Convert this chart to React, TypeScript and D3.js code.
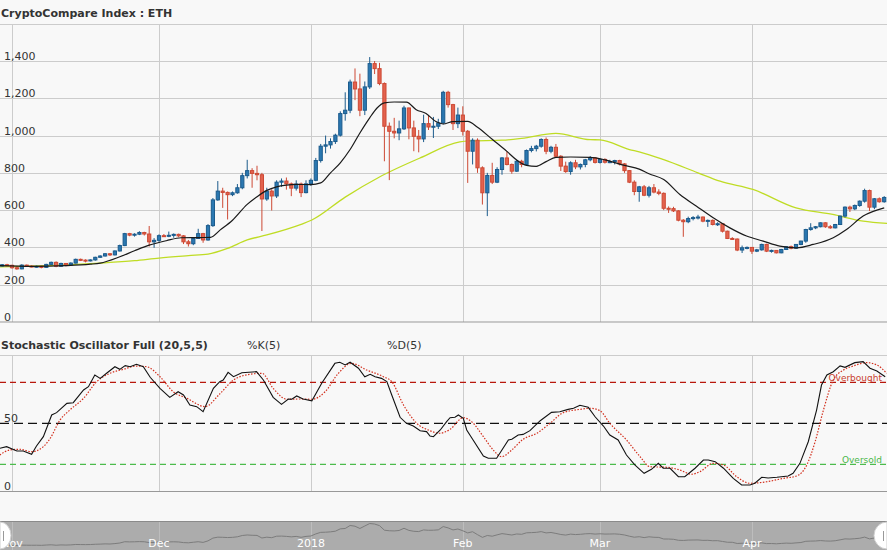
import React from 'react';
import * as d3 from 'd3';

const W = 887;
const H = 550;
const DAY = 86400000;
const FIRST_CANDLE = Date.UTC(2017, 9, 30);
const NOV1 = Date.UTC(2017, 10, 1);

// Daily OHLC, 30 Oct 2017 .. 28 Apr 2018
const openValues = [
  300, 307, 304, 291, 285, 305, 300, 297, 299, 293,
  309, 320, 299, 314, 307, 316, 336, 332, 329, 333,
  347, 354, 366, 360, 381, 410, 474, 466, 471, 480,
  472, 430, 438, 463, 460, 465, 470, 462, 430, 420,
  448, 474, 440, 517, 655, 702, 695, 683, 693, 720,
  785, 812, 797, 790, 660, 702, 676, 750, 756, 741,
  718, 740, 694, 741, 760, 866, 943, 950, 968, 1002,
  1118, 1136, 1287, 1250, 1136, 1261, 1386, 1359, 1279, 1050,
  1023, 1014, 1036, 1148, 1041, 996, 982, 1064, 1046, 1050,
  1068, 1232, 1166, 1064, 1110, 1023, 916, 975, 827, 693,
  786, 750, 818, 880, 845, 809, 862, 845, 920, 930,
  943, 979, 916, 937, 889, 836, 807, 854, 832, 845,
  870, 880, 856, 872, 857, 860, 866, 848, 812, 750,
  700, 725, 680, 720, 697, 690, 610, 608, 596, 546,
  538, 555, 560, 563, 541, 545, 523, 527, 487, 448,
  445, 386, 398, 400, 380, 387, 416, 380, 384, 371,
  389, 404, 396, 416, 434, 496, 505, 511, 532, 511,
  505, 523, 568, 616, 607, 625, 648, 705, 616, 661, 645,
];
const highValues = [
  311, 312, 307, 300, 310, 308, 304, 302, 301, 312,
  324, 325, 318, 316, 320, 340, 340, 336, 336, 350,
  358, 370, 370, 384, 415, 478, 478, 476, 487, 484,
  515, 450, 470, 472, 485, 475, 474, 466, 440, 455,
  500, 478, 525, 665, 756, 720, 700, 700, 740, 800,
  870, 825, 838, 800, 720, 712, 760, 770, 775, 748,
  760, 748, 760, 770, 880, 955, 1000, 985, 1010, 1130,
  1232, 1300, 1360, 1332, 1290, 1421, 1400, 1390, 1285, 1070,
  1095, 1080, 1160, 1150, 1080, 1030, 1112, 1105, 1100, 1090,
  1240, 1240, 1170, 1150, 1157, 1030, 985, 985, 835, 800,
  854, 830, 885, 915, 850, 870, 870, 925, 945, 950,
  985, 990, 945, 955, 895, 860, 862, 870, 850, 875,
  890, 885, 878, 878, 870, 870, 870, 852, 815, 760,
  730, 735, 730, 740, 712, 695, 620, 618, 600, 552,
  565, 568, 575, 566, 550, 550, 535, 530, 490, 455,
  448, 410, 405, 402, 392, 420, 420, 388, 386, 392,
  406, 410, 418, 436, 500, 530, 515, 534, 535, 520,
  526, 570, 620, 624, 630, 652, 715, 710, 665, 668, 675,
];
const lowValues = [
  298, 300, 286, 280, 283, 295, 293, 292, 288, 291,
  306, 294, 296, 298, 305, 314, 327, 320, 325, 329,
  344, 351, 354, 357, 378, 407, 460, 458, 466, 464,
  405, 398, 430, 457, 455, 452, 455, 418, 405, 412,
  445, 425, 436, 510, 650, 612, 550, 675, 688, 712,
  770, 720, 760, 488, 650, 598, 665, 725, 710, 675,
  705, 670, 690, 730, 755, 855, 905, 930, 955, 995,
  1080, 1120, 1190, 1104, 1110, 1250, 1330, 1270, 862, 761,
  985, 975, 1030, 980, 916, 910, 965, 1030, 987, 1035,
  1060, 1150, 1030, 1040, 1000, 746, 845, 800, 630, 568,
  740, 745, 790, 840, 795, 805, 830, 840, 910, 915,
  935, 900, 905, 880, 810, 800, 790, 820, 818, 830,
  862, 850, 850, 850, 852, 845, 840, 800, 745, 680,
  645, 675, 668, 690, 680, 600, 585, 590, 540, 457,
  530, 545, 550, 535, 510, 518, 515, 480, 445, 440,
  380, 370, 390, 365, 375, 383, 375, 372, 368, 369,
  386, 390, 392, 412, 425, 490, 498, 508, 505, 500,
  502, 520, 560, 590, 600, 618, 640, 595, 605, 640, 640,
];
const closeValues = [
  307, 304, 291, 285, 305, 300, 297, 299, 293, 309,
  320, 299, 314, 307, 316, 336, 332, 329, 333, 347,
  354, 366, 360, 381, 410, 474, 466, 471, 480, 472,
  430, 438, 463, 460, 465, 470, 462, 430, 420, 448,
  474, 440, 517, 655, 702, 695, 683, 693, 720, 785,
  812, 797, 790, 660, 702, 676, 750, 756, 741, 718,
  740, 694, 741, 760, 866, 943, 950, 968, 1002, 1118,
  1136, 1287, 1250, 1136, 1261, 1386, 1359, 1279, 1050, 1023,
  1014, 1036, 1148, 1041, 996, 982, 1064, 1046, 1050, 1068,
  1232, 1166, 1064, 1110, 1023, 916, 975, 827, 693, 786,
  750, 818, 880, 845, 809, 862, 845, 920, 930, 943,
  979, 916, 937, 889, 836, 807, 854, 832, 845, 870,
  880, 856, 872, 857, 860, 866, 848, 812, 750, 700,
  725, 680, 720, 697, 690, 610, 608, 596, 546, 538,
  555, 560, 563, 541, 545, 523, 527, 487, 448, 445,
  386, 398, 400, 380, 387, 416, 380, 384, 371, 389,
  404, 396, 416, 434, 496, 505, 511, 532, 511, 505,
  523, 568, 616, 607, 625, 648, 705, 616, 661, 645, 668,
];

// Moving averages: [days after 1 Nov 2017, value]
const fastMaPoints: [number, number][] = [
  [-2.5, 302], [4, 298], [11, 302], [16, 310], [18, 316], [22, 350], [25, 382], [28, 412],
  [31.5, 436], [34.5, 452], [38.5, 453], [40.5, 454], [42.5, 494], [45, 546], [48, 631],
  [50, 672], [52, 706], [54, 725], [56, 734], [58, 738], [61, 737], [63, 746], [65, 800],
  [67, 854], [69, 925], [71, 1014], [73, 1095], [74.5, 1148], [76, 1175], [78, 1180],
  [80.5, 1179], [82.5, 1139], [84.5, 1118], [86.5, 1075], [88, 1062], [90, 1075], [93, 1076],
  [95, 1045], [98, 980], [101, 915], [103, 869], [105, 840], [107, 835], [109, 860], [111, 883],
  [114, 885], [118, 883], [121, 870], [125, 840], [128, 820], [130, 795], [133, 764],
  [136.3, 684], [139.7, 621], [143.1, 559], [146.5, 505], [149.9, 461], [153.3, 434],
  [156.7, 407], [160.1, 398], [163.5, 416], [167.6, 452], [170.3, 496], [173.7, 568], [178, 612],
];
const slowMaPoints: [number, number][] = [
  [-2.5, 296], [11, 306], [18, 316], [25, 329], [30, 343], [36, 356], [40, 364], [44, 395],
  [48, 440], [52, 467], [59, 524], [61.2, 547], [68, 670], [75, 778], [83.3, 880], [91.4, 966],
  [93.5, 971], [100, 975], [104, 985], [111, 1012], [118, 978], [120, 977], [126, 925],
  [128, 913], [133, 871], [140, 800], [144.5, 755], [151.2, 711], [160, 612], [167.5, 577],
  [173.7, 541], [178.6, 529],
];

// Stochastic oscillator: [days after 1 Nov 2017, value]
const stochKPoints: [number, number][] = [
  [-2.5, 31.7], [-1.1, 32.9], [1, 29.7], [2.3, 29.7], [4, 27.3], [5, 33.4], [6.4, 40.2],
  [8.1, 56.1], [9.1, 57.8], [11.2, 64.6], [12.5, 65.1], [14.6, 74.4], [15.6, 76.8], [16.9, 85.4],
  [18, 82.9], [19.3, 86.6], [21, 91.4], [22, 89.5], [23.1, 92.2], [24.1, 91.4], [25.4, 93.2],
  [26.8, 91.4], [28.2, 83.7], [30.2, 75.6], [32.2, 69], [33.9, 73.1], [35, 70.7], [36.3, 63.4],
  [37.7, 62.2], [39, 58.5], [41.1, 75.6], [42.4, 80.5], [43.1, 81.7], [44.1, 87.3], [45.2, 84.1],
  [46.9, 87], [49.9, 87.8], [51.3, 81.7], [53.3, 69], [55, 63.9], [56.4, 67.8], [57.1, 67.6],
  [58.1, 70], [59.4, 67.8], [61.2, 66.5], [63.2, 79.3], [65.9, 93.9], [66.9, 94.7], [68, 92.7],
  [69, 94.7], [70.7, 90.3], [72, 84.1], [73.1, 85.9], [74.1, 84.1], [75.4, 82.9], [76.5, 80.5],
  [77.5, 70.7], [79.2, 54.4], [80.5, 50], [81.9, 48], [83.3, 44.6], [84.6, 43.9], [85.3, 40.7],
  [86, 40.2], [87.4, 45.1], [88.7, 51.2], [89.4, 54.1], [90.4, 54.4], [91.1, 56.1], [92.1, 53.7],
  [92.8, 45.1], [94.1, 37.8], [96.2, 26.1], [97.2, 24.4], [98.9, 24.4], [101.3, 37.8], [102, 38.3],
  [103.3, 41.4], [104.3, 41.9], [105.7, 44.6], [107.8, 51.9], [110.1, 58], [111.8, 58.5],
  [113.5, 60.2], [114.6, 61], [115.9, 63.2], [117.6, 61.7], [119, 54.8], [120.7, 48], [122, 41.4],
  [123.7, 37.8], [125.4, 26.8], [127.1, 19.5], [129, 13.4], [130.5, 16.3], [131.9, 20.7],
  [132.9, 17.1], [134.3, 17.1], [136, 10.9], [137.3, 10.9], [139.4, 17.1], [141.1, 23.1],
  [142.1, 23.1], [143.5, 21.9], [145.2, 17.1], [147.2, 9.7], [148.9, 4.8], [150.6, 4.8],
  [151.6, 6.1], [153, 10.5], [154.3, 10], [156.1, 10.5], [158.4, 11.4], [159.4, 13.4],
  [160.8, 20.7], [162.5, 36.5], [164.2, 59.7], [165.2, 78], [166.3, 85.4], [167.6, 87.8],
  [169, 92], [170, 91], [172, 94.4], [173.7, 95.1], [175.1, 90.3], [176.5, 88.3], [178.2, 84.1],
];
const stochDPoints: [number, number][] = [
  [-2.5, 26.8], [-0.4, 30.5], [1.6, 31], [4, 29.2], [6.4, 32.9], [7.8, 39], [9.8, 52.4],
  [11.8, 59.7], [14.6, 68.3], [17.3, 80.5], [20, 86.6], [22.7, 89.5], [25.4, 91.9], [27.5, 91.4],
  [30.2, 84.1], [32.9, 73.1], [35.7, 68.3], [39.4, 62.2], [42.4, 71.5], [45.2, 81.7], [48.6, 85.9],
  [51, 86.6], [53.3, 75.6], [56.1, 67.6], [58.8, 67.8], [61.2, 67.6], [63.9, 73.1], [66.6, 86.6],
  [69.3, 93.9], [72.4, 89], [75.8, 84.1], [77.5, 80.5], [79.9, 63.4], [82.6, 50], [85.3, 44.6],
  [87.3, 42.7], [89.4, 45.6], [92.1, 54.1], [93.8, 51.2], [96.2, 40.2], [98.2, 30.5], [99.9, 25.5],
  [102, 30.5], [104.3, 38.3], [107.1, 42.7], [109.8, 50], [112.5, 57.8], [115.9, 60.2], [118, 61],
  [120, 59.2], [122, 50], [125.4, 37.8], [128.2, 25.5], [130.2, 18.2], [133.6, 17.8], [136.3, 15.8],
  [138.7, 12.7], [140.4, 14.6], [143.1, 20.7], [145.2, 19.5], [147.9, 10.9], [150.6, 6.1],
  [154, 7.2], [157.4, 9.7], [160.1, 11.4], [162.2, 19.5], [163.9, 36.5], [165.6, 59.7],
  [167.6, 81.7], [169.7, 89], [171.7, 92], [174.4, 94.4], [176.5, 92.7], [178.5, 86.6],
];

const priceTicks = [0, 200, 400, 600, 800, 1000, 1200, 1400];
const monthStarts = [
  Date.UTC(2017, 10, 1), Date.UTC(2017, 11, 1), Date.UTC(2018, 0, 1),
  Date.UTC(2018, 1, 1), Date.UTC(2018, 2, 1), Date.UTC(2018, 3, 1),
];
const monthLabels = ['Nov', 'Dec', '2018', 'Feb', 'Mar', 'Apr'];
const OVERBOUGHT = 80;
const OVERSOLD = 20;

const FONT = '"DejaVu Sans", Verdana, sans-serif';
const UP_FILL = '#2b78b1';
const UP_STROKE = '#1b5b8c';
const DOWN_FILL = '#e3624e';
const DOWN_STROKE = '#cd4934';

export default function App() {
  const xs = d3
    .scaleUtc()
    .domain([new Date(Date.UTC(2017, 9, 29, 13, 13)), new Date(Date.UTC(2018, 3, 28, 13, 40))])
    .range([0, W]);
  const ys = d3.scaleLinear().domain([0, 1600]).range([322, 23.7]);
  const yo = d3.scaleLinear().domain([0, 100]).range([491.6, 355]);
  const ext = d3.extent(closeValues) as [number, number];
  const yn = d3.scaleLinear().domain(ext).range([545.5, 523.5]);

  const dayDate = (d: number) => new Date(NOV1 + d * DAY);
  const candleDate = (i: number) => new Date(FIRST_CANDLE + i * DAY);

  const maLine = d3
    .line<[number, number]>()
    .x((p) => xs(dayDate(p[0])))
    .y((p) => ys(p[1]))
    .curve(d3.curveMonotoneX);
  const kLine = d3
    .line<[number, number]>()
    .x((p) => xs(dayDate(p[0])))
    .y((p) => yo(p[1]));
  const dLine = d3
    .line<[number, number]>()
    .x((p) => xs(dayDate(p[0])))
    .y((p) => yo(p[1]))
    .curve(d3.curveMonotoneX);
  const navLine = d3
    .line<number>()
    .x((_, i) => xs(candleDate(i)))
    .y((v) => yn(v));

  const crisp = (v: number) => Math.round(v) + 0.5;

  return (
    <svg
      width={W}
      height={H}
      style={{ position: 'fixed', left: 0, top: 0, display: 'block' }}
      fontFamily={FONT}
    >
      <rect x={0} y={0} width={W} height={H} fill="#f8f8f8" />

      {/* Title */}
      <text x={1} y={17} fontSize={11} fontWeight="bold" fill="#333">
        CryptoCompare Index : ETH
      </text>
      <line x1={0} x2={W} y1={24.5} y2={24.5} stroke="#cccccc" />

      {/* Main panel grid */}
      {priceTicks.slice(1).map((t) => (
        <line key={'hg' + t} x1={0} x2={W} y1={crisp(ys(t))} y2={crisp(ys(t))} stroke="#cccccc" />
      ))}
      {monthStarts.map((m) => (
        <line
          key={'vg' + m}
          x1={crisp(xs(new Date(m)))}
          x2={crisp(xs(new Date(m)))}
          y1={24}
          y2={322}
          stroke="#cccccc"
        />
      ))}
      <line x1={0} x2={W} y1={322} y2={322} stroke="#999999" />
      {priceTicks.map((t) => (
        <text key={'tl' + t} x={4} y={ys(t) - 1} fontSize={11} fill="#333">
          {d3.format(',')(t)}
        </text>
      ))}

      {/* Moving averages */}
      <path d={maLine(slowMaPoints) || ''} fill="none" stroke="#bfdc24" strokeWidth={1.3} />

      {/* Candles */}
      {closeValues.map((c, i) => {
        const o = openValues[i];
        const up = c >= o;
        const cx = xs(candleDate(i));
        const top = ys(Math.max(o, c));
        const bot = ys(Math.min(o, c));
        const stroke = up ? UP_STROKE : DOWN_STROKE;
        return (
          <g key={'c' + i}>
            <line x1={cx} x2={cx} y1={ys(highValues[i])} y2={ys(lowValues[i])} stroke={stroke} strokeWidth={1} />
            <rect
              x={cx - 1.6}
              y={top}
              width={3.2}
              height={Math.max(1, bot - top)}
              fill={up ? UP_FILL : DOWN_FILL}
              stroke={stroke}
              strokeWidth={1}
            />
          </g>
        );
      })}
      <path d={maLine(fastMaPoints) || ''} fill="none" stroke="#1a1a1a" strokeWidth={1.2} />

      {/* Oscillator header */}
      <text x={1} y={349} fontSize={11} fontWeight="bold" fill="#333">
        Stochastic Oscillator Full (20,5,5)
      </text>
      <text x={247} y={349} fontSize={11} fill="#333">%K(5)</text>
      <text x={387} y={349} fontSize={11} fill="#333">%D(5)</text>

      {/* Oscillator grid */}
      <line x1={0} x2={W} y1={355.5} y2={355.5} stroke="#cccccc" />
      {monthStarts.map((m) => (
        <line
          key={'og' + m}
          x1={crisp(xs(new Date(m)))}
          x2={crisp(xs(new Date(m)))}
          y1={355}
          y2={491}
          stroke="#cccccc"
        />
      ))}
      <line x1={0} x2={W} y1={491.5} y2={491.5} stroke="#999999" />
      <text x={4} y={yo(50) - 1.5} fontSize={11} fill="#333">50</text>
      <text x={4} y={yo(0) - 1.5} fontSize={11} fill="#333">0</text>

      <line x1={0} x2={W} y1={yo(OVERBOUGHT)} y2={yo(OVERBOUGHT)} stroke="#b8170c" strokeWidth={1.2} strokeDasharray="6,4" />
      <line x1={0} x2={W} y1={yo(50)} y2={yo(50)} stroke="#111" strokeWidth={1.2} strokeDasharray="9,5" />
      <line x1={0} x2={W} y1={yo(OVERSOLD)} y2={yo(OVERSOLD)} stroke="#4cbc4c" strokeWidth={1.2} strokeDasharray="6,4" />

      <path d={dLine(stochDPoints) || ''} fill="none" stroke="#d2301e" strokeWidth={1.2} strokeDasharray="1.5,1.5" />
      <path d={kLine(stochKPoints) || ''} fill="none" stroke="#111" strokeWidth={1.1} />

      <text x={882} y={yo(OVERBOUGHT) - 1.5} fontSize={9} fill="#c8402f" textAnchor="end">Overbought</text>
      <text x={882} y={yo(OVERSOLD) - 1.5} fontSize={9} fill="#49b649" textAnchor="end">Oversold</text>

      {/* Navigator */}
      <rect x={0} y={521} width={W} height={29} fill="#acacac" />
      <line x1={0} x2={W} y1={521.5} y2={521.5} stroke="#8a8a8a" />
      {monthStarts.map((m) => (
        <line
          key={'ng' + m}
          x1={crisp(xs(new Date(m)))}
          x2={crisp(xs(new Date(m)))}
          y1={522}
          y2={550}
          stroke="#bdbdbd"
        />
      ))}
      <path d={navLine(closeValues) || ''} fill="none" stroke="#7c7c7c" strokeWidth={1} />
      {monthStarts.map((m, i) => (
        <text
          key={'nl' + m}
          x={xs(new Date(m))}
          y={547}
          fontSize={11}
          fill="#ffffff"
          textAnchor="middle"
        >
          {monthLabels[i]}
        </text>
      ))}
      <path d="M0,522 A11,13.5 0 0 1 0,549 Z" fill="#ffffff" stroke="#cfcfcf" />
      <line x1={3.5} x2={3.5} y1={531} y2={541} stroke="#999" />
      <path d="M887,522 A13,13.5 0 0 0 887,549 Z" fill="#ffffff" stroke="#cfcfcf" />
      <line x1={883.5} x2={883.5} y1={531} y2={541} stroke="#999" />
    </svg>
  );
}
